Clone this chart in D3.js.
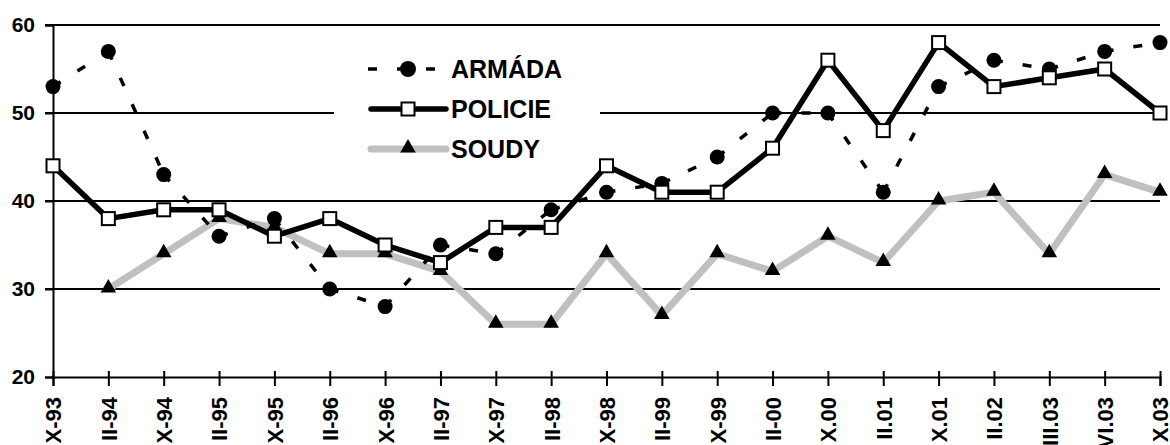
<!DOCTYPE html>
<html>
<head>
<meta charset="utf-8">
<script src="https://cdn.jsdelivr.net/npm/d3@7"></script>
<style>
  body { margin: 0; background: #fff; }
  svg { display: block; }
  text { font-family: "Liberation Sans", Arial, sans-serif; font-weight: bold; }
</style>
</head>
<body>
<div id="chart"></div>
<script>
(function() {

    var width = 1170;
    var height = 445;

    var periods = ["X-93", "II-94", "X-94", "II-95", "X-95", "II-96", "X-96", "II-97", "X-97", "II-98",
        "X-98", "II-99", "X-99", "II-00", "X.00", "II.01", "X.01", "II.02", "III.03", "VI.03", "X.03"];
    var armada = [53, 57, 43, 36, 38, 30, 28, 35, 34, 39, 41, 42, 45, 50, 50, 41, 53, 56, 55, 57, 58];
    var policie = [44, 38, 39, 39, 36, 38, 35, 33, 37, 37, 44, 41, 41, 46, 56, 48, 58, 53, 54, 55, 50];
    var soudy = [null, 30, 34, 38, 37, 34, 34, 32, 26, 26, 34, 27, 34, 32, 36, 33, 40, 41, 34, 43, 41];
    var yTicks = [20, 30, 40, 50, 60];
    var seriesNames = ["ARMÁDA", "POLICIE", "SOUDY"];

    var left = 53, right = 1160, top = 25, bottom = 377;
    var dash = "9,20";

    var svg = d3.select("#chart")
        .append("svg")
        .attr("width", width)
        .attr("height", height);

    var x = d3.scalePoint().domain(periods).range([left, right]);
    var y = d3.scaleLinear().domain([20, 60]).range([bottom, top]);

    // grid lines
    svg.append("g")
        .selectAll("line")
        .data(yTicks.slice(1))
        .enter().append("line")
        .attr("x1", left - 8)
        .attr("x2", right)
        .attr("y1", function (d) { return y(d); })
        .attr("y2", function (d) { return y(d); })
        .attr("stroke", "#000")
        .attr("stroke-width", 2);

    // y axis
    var yAxis = svg.append("g")
        .attr("transform", "translate(" + left + ",0)")
        .call(d3.axisLeft(y).tickValues(yTicks).tickSize(8).tickPadding(10));
    yAxis.select(".domain").attr("stroke-width", 2);
    yAxis.selectAll(".tick line").attr("stroke-width", 2);
    yAxis.selectAll("text").attr("font-size", 21).attr("fill", "#000")
        .style("font-family", "Liberation Sans, Arial, sans-serif").style("font-weight", "bold");

    // x axis
    var xAxis = svg.append("g")
        .attr("transform", "translate(0," + bottom + ")")
        .call(d3.axisBottom(x).tickSizeOuter(0).tickSize(9));
    xAxis.select(".domain").attr("stroke-width", 2);
    xAxis.selectAll(".tick line").attr("stroke-width", 2).attr("y1", -6);
    xAxis.selectAll("text")
        .attr("font-size", 22).attr("fill", "#000")
        .style("font-family", "Liberation Sans, Arial, sans-serif").style("font-weight", "bold")
        .attr("text-anchor", "end")
        .attr("dy", "0.36em")
        .attr("y", 0)
        .attr("transform", "translate(0,20) rotate(-90)");

    // legend background
    svg.append("rect")
        .attr("x", 334).attr("y", 45)
        .attr("width", 266).attr("height", 125)
        .attr("fill", "#fff");

    var line = d3.line()
        .defined(function (d) { return d !== null; })
        .x(function (d, i) { return x(periods[i]); })
        .y(function (d) { return y(d); });

    // soudy
    svg.append("path")
        .attr("d", line(soudy))
        .attr("fill", "none")
        .attr("stroke", "#c0c0c0")
        .attr("stroke-width", 7)
        .attr("stroke-linejoin", "round");

    var tri = d3.symbol().type(d3.symbolTriangle).size(105);

    // armada: each segment dashed on its own, as the original does
    svg.append("g").selectAll("line")
        .data(d3.pairs(armada.map(function (d, i) { return [x(periods[i]), y(d)]; })))
        .enter().append("line")
        .attr("x1", function (p) { return p[0][0]; })
        .attr("y1", function (p) { return p[0][1]; })
        .attr("x2", function (p) { return p[1][0]; })
        .attr("y2", function (p) { return p[1][1]; })
        .attr("stroke", "#000")
        .attr("stroke-width", 3.5)
        .attr("stroke-dasharray", dash);

    // policie
    svg.append("path")
        .attr("d", line(policie))
        .attr("fill", "none")
        .attr("stroke", "#000")
        .attr("stroke-width", 5.5)
        .attr("stroke-linejoin", "round");

    svg.append("g").selectAll("path")
        .data(soudy.map(function (d, i) { return { v: d, i: i }; }).filter(function (d) { return d.v !== null; }))
        .enter().append("path")
        .attr("d", tri)
        .attr("transform", function (d) { return "translate(" + x(periods[d.i]) + "," + (y(d.v) - 1) + ")"; })
        .attr("fill", "#000");

    svg.append("g").selectAll("circle")
        .data(armada)
        .enter().append("circle")
        .attr("cx", function (d, i) { return x(periods[i]); })
        .attr("cy", function (d) { return y(d); })
        .attr("r", 7.5)
        .attr("fill", "#000");

    svg.append("g").selectAll("rect")
        .data(policie)
        .enter().append("rect")
        .attr("x", function (d, i) { return x(periods[i]) - 6.5; })
        .attr("y", function (d) { return y(d) - 6.5; })
        .attr("width", 13).attr("height", 13)
        .attr("fill", "#fff")
        .attr("stroke", "#000")
        .attr("stroke-width", 2);

    // legend
    var lg = svg.append("g");
    var rows = [69, 109, 149];
    var lx1 = 368, lx2 = 446, lm = 408;

    lg.append("line").attr("x1", lx1).attr("x2", 436).attr("y1", rows[0]).attr("y2", rows[0])
        .attr("stroke", "#000").attr("stroke-width", 3.5).attr("stroke-dasharray", dash);
    lg.append("circle").attr("cx", lm).attr("cy", rows[0]).attr("r", 8).attr("fill", "#000");

    lg.append("line").attr("x1", lx1 + 3).attr("x2", lx2).attr("y1", rows[1]).attr("y2", rows[1])
        .attr("stroke", "#000").attr("stroke-width", 5.5).attr("stroke-linecap", "round");
    lg.append("rect").attr("x", lm - 6.5).attr("y", rows[1] - 6.5).attr("width", 13).attr("height", 13)
        .attr("fill", "#fff").attr("stroke", "#000").attr("stroke-width", 2);

    lg.append("line").attr("x1", lx1 + 3).attr("x2", lx2).attr("y1", rows[2]).attr("y2", rows[2])
        .attr("stroke", "#c0c0c0").attr("stroke-width", 7).attr("stroke-linecap", "round");
    lg.append("path").attr("d", tri).attr("transform", "translate(" + lm + "," + (rows[2] - 1) + ")").attr("fill", "#000");

    lg.selectAll("text")
        .data(seriesNames)
        .enter().append("text")
        .attr("x", 451)
        .attr("y", function (d, i) { return rows[i]; })
        .attr("dy", "0.36em")
        .attr("font-size", 25)
        .text(function (d) { return d; });

})();
</script>
</body>
</html>
